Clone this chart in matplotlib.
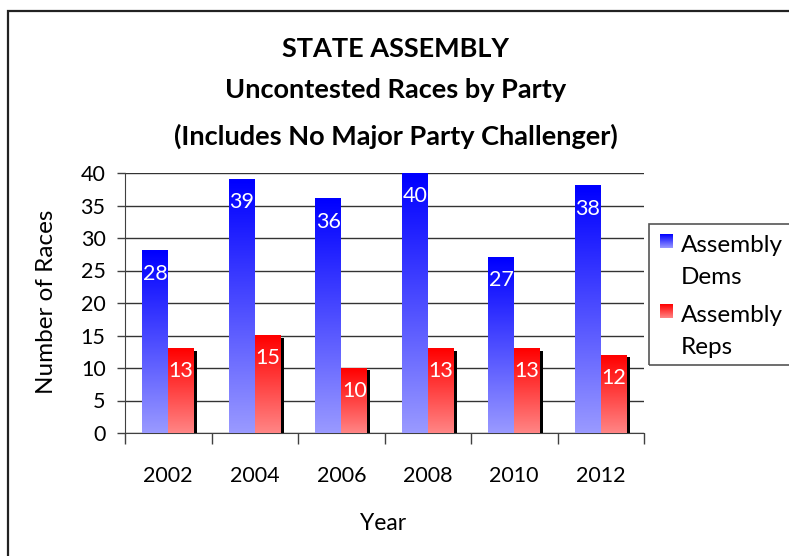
import numpy as np
import matplotlib.pyplot as plt
from matplotlib.patches import Rectangle
import matplotlib.patheffects as pe

plt.rcParams['font.family'] = ['Lato', 'DejaVu Sans']

# uncontested races per election year
years = ['2002', '2004', '2006', '2008', '2010', '2012']
dems = [28, 39, 36, 40, 27, 38]
reps = [13, 15, 10, 13, 13, 12]
series_names = [('Assembly', 'Dems'), ('Assembly', 'Reps')]

W, H = 789, 556
fig = plt.figure(figsize=(W / 100, H / 100), dpi=100)
ax = fig.add_axes([125 / W, 1 - 433 / H, (644 - 125) / W, (433 - 173) / H])

# vertical gradients: strong colour at the top, pale at the bottom
def gradient(top, bottom, n=64):
    t = np.linspace(0, 1, n)[:, None]
    top = np.array(top)[None, :]
    bottom = np.array(bottom)[None, :]
    col = top * (1 - t) + bottom * t
    return col[:, None, :]

blue_grad = gradient((0, 0, 1), (0.6, 0.6, 1))
red_grad = gradient((1, 0, 0), (1, 0.52, 0.52))

x = np.arange(len(years))
bw = 0.3
shadow = [pe.SimplePatchShadow(offset=(2.3, -1.5), shadow_rgbFace='black', alpha=1), pe.Normal()]

b1 = ax.bar(x - bw / 2, dems, bw, color='none', zorder=3)
b2 = ax.bar(x + bw / 2, reps, bw, color=(1, 0.3, 0.3), zorder=3, path_effects=shadow)

for bars, grad in [(b1, blue_grad), (b2, red_grad)]:
    for r in bars:
        x0, y0 = r.get_x(), r.get_y()
        ax.imshow(grad, extent=[x0, x0 + r.get_width(), y0, y0 + r.get_height()],
                  aspect='auto', zorder=4, interpolation='bilinear')
        ax.text(x0 + r.get_width() / 2, r.get_height() - 3.5, f'{r.get_height():g}',
                ha='center', va='center', color='white', fontsize=15.5, zorder=6)

ax.set_xlim(-0.5, len(years) - 0.5)
ax.set_ylim(0, 40)
ax.set_yticks(range(0, 41, 5))
ax.tick_params(axis='y', labelsize=15.5, length=6, width=1, color='#404040', pad=8)
ax.set_xticks(np.arange(-0.5, len(years), 1))
ax.set_xticklabels([])
ax.set_xticks(x, minor=True)
ax.set_xticklabels(years, minor=True, fontsize=15.5)
ax.tick_params(axis='x', which='major', length=8, width=1, color='#404040', direction='out')
ax.tick_params(axis='x', which='minor', length=0, pad=24)
ax.yaxis.grid(True, color='#333333', linewidth=1)
ax.set_axisbelow(True)
for s in ['top', 'right']:
    ax.spines[s].set_visible(False)
for s in ['left', 'bottom']:
    ax.spines[s].set_color('#404040')

fig.text(47 / W, 1 - 302 / H, 'Number of Races', rotation=90, ha='center', va='center', fontsize=17.5)
fig.text(383 / W, 1 - 524 / H, 'Year', ha='center', va='center', fontsize=16.5)

# title, three lines
titles = ['STATE ASSEMBLY', 'Uncontested Races by Party', '(Includes No Major Party Challenger)']
for t, yy in zip(titles, [57, 98, 145]):
    fig.text(396 / W, 1 - yy / H, t, ha='center', va='baseline', fontsize=19.5, fontweight='bold')

# chart frame
fig.patches.append(Rectangle((8 / W, -0.1), 1, 1 - 11 / H + 0.1, transform=fig.transFigure,
                             fill=False, edgecolor='#222222', linewidth=1.6))

# legend box drawn by hand so the swatches keep their gradient
fig.patches.append(Rectangle((649 / W, 1 - 365 / H), 1, (365 - 224) / H, transform=fig.transFigure,
                             fill=False, edgecolor='#555555', linewidth=1.2))
for (l1, l2), grad, yy in [(series_names[0], blue_grad, 241), (series_names[1], red_grad, 311)]:
    sw = fig.add_axes([660 / W, 1 - (yy + 7) / H, 13 / W, 14 / H])
    sw.imshow(grad, aspect='auto', extent=[0, 1, 0, 1])
    sw.axis('off')
    fig.text(681 / W, 1 - (yy + 5) / H, l1, ha='left', va='center', fontsize=17.5)
    fig.text(681 / W, 1 - (yy + 37) / H, l2, ha='left', va='center', fontsize=17.5)

fig.savefig('out.png', dpi=100)
